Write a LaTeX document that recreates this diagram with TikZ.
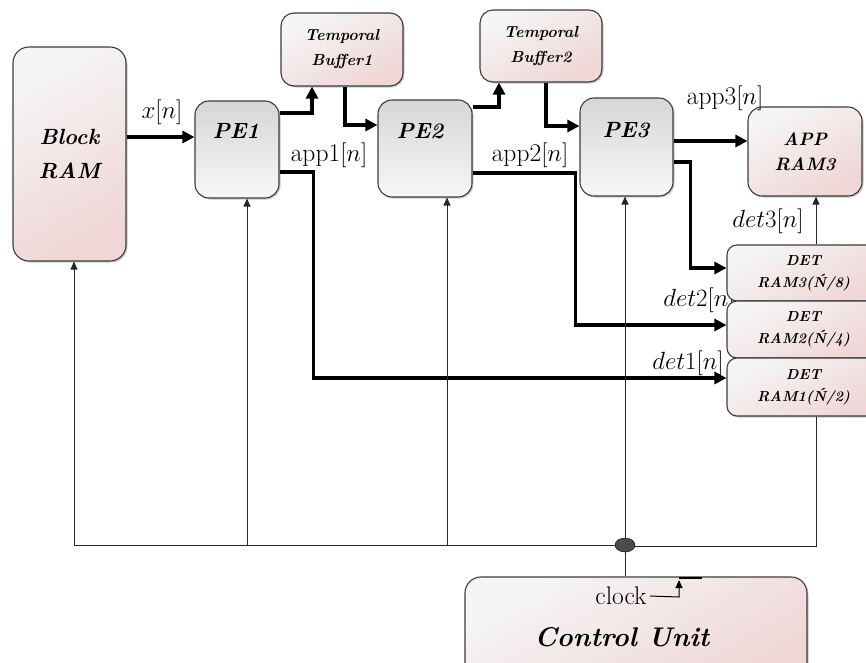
\documentclass[tikz,border=0pt]{standalone}
\usetikzlibrary{arrows.meta,shadows,calc,shapes.geometric}
\definecolor{pinkc}{HTML}{F0D6D6}
\definecolor{lightc}{HTML}{F5F5F5}
\definecolor{grayc}{HTML}{D6D6D6}
\definecolor{edgec}{HTML}{3C3C3C}
\begin{document}
\begin{tikzpicture}[x=1pt,y=-1pt,
  boxbase/.style={draw=edgec, line width=1.1pt, inner sep=0pt, align=center,
    drop shadow={shadow xshift=1.5pt, shadow yshift=-1.5pt, opacity=0.35, fill=black!60}},
  pinkbox/.style={boxbase, rounded corners=#1, top color=lightc, bottom color=pinkc, shading angle=30},
  pinkbox/.default=14pt,
  pebox/.style={boxbase, rounded corners=14pt, top color=grayc, bottom color=lightc!80!white},
  bigtxt/.style={font=\fontsize{22}{34}\selectfont\bfseries\itshape},
  tbtxt/.style={font=\fontsize{16}{25}\selectfont\bfseries\itshape},
  dettxt/.style={font=\fontsize{14.5}{22}\selectfont\bfseries\itshape},
  apptxt/.style={font=\fontsize{18}{25}\selectfont\bfseries\itshape},
  lbl/.style={font=\fontsize{25.5}{30}\selectfont, inner sep=0pt},
  busarrow/.style={line width=3.6pt, line join=miter, -{Triangle[length=12pt,width=12pt]}},
  ctlarrow/.style={line width=1pt, draw=black!85, -{Triangle[length=8pt,width=7pt]}},
  ctlline/.style={line width=1pt, draw=black!85}
]
\useasboundingbox (0,0) rectangle (866,662);
\clip (0,0) rectangle (866,662);

% ---------- blocks ----------
\node[pinkbox=16pt, minimum width=113pt, minimum height=214pt, bigtxt] (ram) at (69.5,154) {Block\\RAM};
\node[pebox, minimum width=84pt, minimum height=97pt] (pe1) at (237,149.5) {};
\node[bigtxt] (pe1t) at (236,131) {PE1};
\node[pebox, minimum width=94pt, minimum height=97pt] (pe2) at (425,148.5) {};
\node[bigtxt] (pe2t) at (420,131) {PE2};
\node[pebox, minimum width=93pt, minimum height=98pt] (pe3) at (626.5,147) {};
\node[bigtxt] (pe3t) at (626,130) {PE3};
\node[pinkbox=13pt, minimum width=122pt, minimum height=73pt, tbtxt] (tb1) at (342,49.5) {Temporal\\Buffer1};
\node[pinkbox=13pt, minimum width=122pt, minimum height=72pt, tbtxt] (tb2) at (541,46) {Temporal\\Buffer2};
\node[pinkbox=14pt, minimum width=114pt, minimum height=89pt, apptxt] (apr) at (805,151.5) {APP\\RAM3};

% ---------- labels drawn under DET boxes ----------
\node[lbl] (l2) at (699,300) {$det2[n]$};
\node[lbl] (l1) at (688,363) {$det1[n]$};

\node[pinkbox=10pt, minimum width=153pt, minimum height=56pt, dettxt] (det3) at (803.5,273) {DET\\RAM3(Ń/8)};
\node[pinkbox=10pt, minimum width=153pt, minimum height=57pt, dettxt] (det2) at (803.5,329.5) {DET\\RAM2(Ń/4)};
\node[pinkbox=10pt, minimum width=153pt, minimum height=58pt, dettxt] (det1) at (803.5,387) {DET\\RAM1(Ń/2)};

\node[pinkbox=16pt, minimum width=342pt, minimum height=113pt] (cu) at (636,633.5) {};
\node[font=\fontsize{27}{32}\selectfont\bfseries\itshape] (cut) at (622,637) {Control Unit};
\node[lbl] (clk) at (621,596) {clock};

% ---------- other labels ----------
\node[lbl] (lx) at (162,112) {$x[n]$};
\node[lbl] (la1) at (329,155) {app1$[n]$};
\node[lbl] (la2) at (530,155) {app2$[n]$};
\node[lbl] (la3) at (725,98) {app3$[n]$};
\node[lbl] (l3) at (768,221) {$det3[n]$};

% ---------- data connectors ----------
\draw[busarrow] ([yshift=17pt]ram.east) coordinate (xa) -- (xa -| pe1.west);
\draw[busarrow] ([yshift=36.5pt]pe1.east) -| ([xshift=-30pt]tb1.south);
\draw[busarrow] ([xshift=3pt]tb1.south) |- ([yshift=23.5pt]pe2.west);
\draw[busarrow] ([yshift=41.5pt]pe2.east) -| ([xshift=-42pt]tb2.south);
\draw[busarrow] ([xshift=5pt]tb2.south) |- ([yshift=21pt]pe3.west);
\draw[busarrow] ([yshift=6pt]pe3.east) coordinate (a3) -- (a3 -| apr.west);
\draw[busarrow] ([yshift=-15pt]pe3.east) -- ++(17,0) |- ([yshift=5pt]det3.west);
\draw[busarrow] ([yshift=-24.5pt]pe2.east) -- ++(103,0) |- ([yshift=4.5pt]det2.west);
\draw[busarrow] ([yshift=-22.5pt]pe1.east) -- ++(34,0) |- ([yshift=9pt]det1.west);

% ---------- control connectors ----------
\coordinate (rx) at (816,0);
\draw[ctlarrow] (det3.north -| rx) -- (apr.south -| rx);
\coordinate (b0) at (74,545);
\coordinate (b1) at (247,545);
\coordinate (b2) at (447,545);
\coordinate (j) at (625,545);
\draw[ctlline] (j) -- (b0);
\draw[ctlarrow] (b0) -- (b0 |- ram.south);
\draw[ctlarrow] (b1) -- (b1 |- pe1.south);
\draw[ctlarrow] (b2) -- (b2 |- pe2.south);
\draw[ctlarrow] (j) -- (j |- pe3.south);
\draw[ctlline] (det1.south -| rx) -- (816,546.5) -- (625,546.5);
\node[ellipse, draw=black, fill=black!70, minimum width=20pt, minimum height=14pt, inner sep=0pt] (jn) at (j) {};
\draw[ctlline] (jn.south) -- (jn |- cu.north);

% clock symbol
\draw[line width=1pt, -{Triangle[length=8pt,width=7pt]}] ([xshift=3pt]clk.east) -- (679,597) -- (679,580);
\draw[line width=2pt] (679,578) -- (702,578);
\end{tikzpicture}
\end{document}
